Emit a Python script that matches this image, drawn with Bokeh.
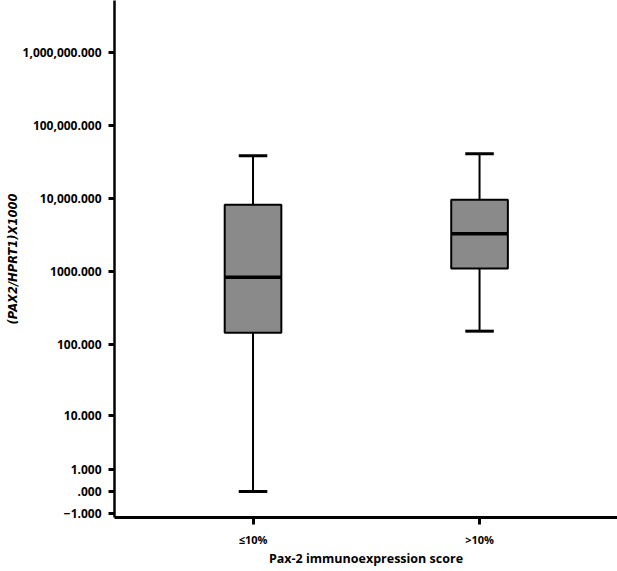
import numpy as np
from bokeh.plotting import figure
from bokeh.models import Range1d, FixedTicker, CustomJSTickFormatter
from bokeh.embed import file_html
from bokeh.resources import INLINE

# ---- data (original units) ----
categories = ["\u226410%", ">10%"]
whisker_low = [0.0, 154.0]
q1 = [146.0, 1110.0]
median = [846.0, 3310.0]
q3 = [8260.0, 9660.0]
whisker_high = [38500.0, 41000.0]

tick_values = [-1, 0, 1, 10, 100, 1000, 10000, 100000, 1000000]
tick_labels = ["\u22121.000", ".000", "1.000", "10.000", "100.000", "1000.000",
               "10,000.000", "100,000.000", "1,000,000.000"]
x_title = "Pax-2 immunoexpression score"
y_title = "(PAX2/HPRT1)X1000"


def safe_log(v):
    v = np.asarray(v, dtype=float)
    return np.sign(v) * np.log10(np.abs(v) + 1.0)


xs = np.arange(1, len(categories) + 1, dtype=float)
t_low = safe_log(whisker_low)
t_q1 = safe_log(q1)
t_med = safe_log(median)
t_q3 = safe_log(q3)
t_high = safe_log(whisker_high)
t_ticks = [float(v) for v in safe_log(tick_values)]

BOX_W = 0.25
CAP_W = 0.126

p = figure(width=617, height=571, output_backend="svg", toolbar_location=None,
           x_range=Range1d(0.3885, 2.609), y_range=Range1d(-0.3552, 6.7077),
           min_border_left=114, min_border_right=0, min_border_top=0,
           min_border_bottom=54)
p.outline_line_color = None
p.xgrid.grid_line_color = None
p.ygrid.grid_line_color = None
p.background_fill_color = "white"
p.border_fill_color = "white"

# whiskers
p.segment(x0=xs, y0=t_high, x1=xs, y1=t_q3, line_color="black", line_width=2)
p.segment(x0=xs, y0=t_q1, x1=xs, y1=t_low, line_color="black", line_width=2)
# caps
p.segment(x0=xs - CAP_W / 2, y0=t_high, x1=xs + CAP_W / 2, y1=t_high,
          line_color="black", line_width=3)
p.segment(x0=xs - CAP_W / 2, y0=t_low, x1=xs + CAP_W / 2, y1=t_low,
          line_color="black", line_width=3)
# boxes
p.vbar(x=xs, width=BOX_W, bottom=t_q1, top=t_q3, fill_color="#8a8a8a",
       line_color="black", line_width=2)
# medians
p.segment(x0=xs - BOX_W / 2, y0=t_med, x1=xs + BOX_W / 2, y1=t_med,
          line_color="black", line_width=3.5)

# y axis
ya = p.yaxis[0]
ya.ticker = FixedTicker(ticks=t_ticks)
ya.formatter = CustomJSTickFormatter(args=dict(tt=t_ticks, labels=tick_labels), code="""
let best = 0, bd = Infinity;
for (let i = 0; i < tt.length; i++) { const d = Math.abs(tt[i] - tick); if (d < bd) { bd = d; best = i; } }
return labels[best];
""")
ya.minor_tick_line_color = None
ya.major_tick_out = 6
ya.major_tick_in = 0
ya.major_tick_line_width = 3
ya.axis_line_width = 2.5
ya.major_label_standoff = 7
ya.major_label_text_font = "Open Sans"
ya.major_label_text_font_style = "bold"
ya.major_label_text_font_size = "12px"
ya.major_label_text_color = "black"
ya.axis_label = y_title
ya.axis_label_text_font = "DejaVu Sans"
ya.axis_label_text_font_style = "bold italic"
ya.axis_label_text_font_size = "11.5px"
ya.axis_label_text_color = "black"
ya.axis_label_standoff = 0

# x axis
xa = p.xaxis[0]
xa.ticker = FixedTicker(ticks=[float(v) for v in xs])
xa.formatter = CustomJSTickFormatter(args=dict(cats=categories), code="""
return cats[Math.round(tick) - 1];
""")
xa.minor_tick_line_color = None
xa.major_tick_out = 7
xa.major_tick_in = 0
xa.major_tick_line_width = 3
xa.axis_line_width = 3
xa.major_label_standoff = 7
xa.major_label_text_font = "Open Sans"
xa.major_label_text_font_style = "bold"
xa.major_label_text_font_size = "11px"
xa.major_label_text_color = "black"
xa.axis_label = x_title
xa.axis_label_text_font = "Open Sans"
xa.axis_label_text_font_style = "bold"
xa.axis_label_text_font_size = "12.5px"
xa.axis_label_text_color = "black"
xa.axis_label_standoff = 0

open("out.html", "w").write(file_html(p, INLINE))
